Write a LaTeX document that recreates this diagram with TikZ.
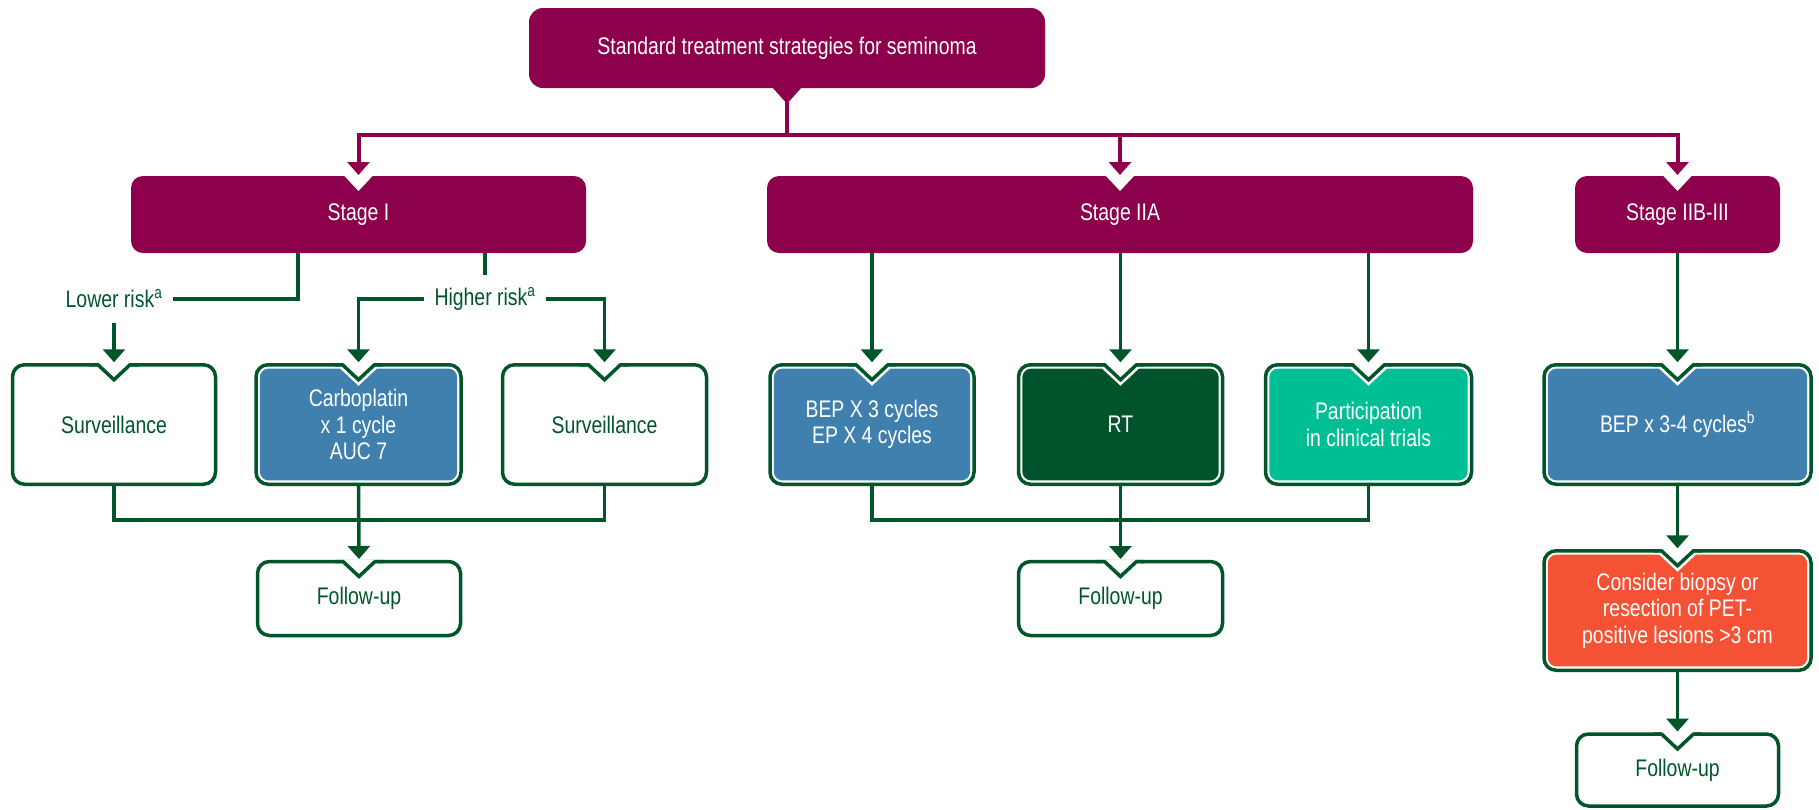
\documentclass[tikz,border=0pt]{standalone}
\usepackage{fontspec}
\setmainfont{Liberation Sans}[FakeStretch=0.81]
\usetikzlibrary{arrows.meta,positioning}

\definecolor{plum}{HTML}{8C004C}
\definecolor{dkgreen}{HTML}{00562A}
\definecolor{cblue}{HTML}{3F80AF}
\definecolor{cteal}{HTML}{00BF94}
\definecolor{corange}{HTML}{F45135}
\definecolor{rtgreen}{HTML}{00532A}

\newcommand{\boxfont}{\fontsize{24}{26.5}\selectfont}

% white cut at the top of a stage box
\newcommand{\stagenotch}[1]{%
  \fill[white] ([xshift=-15pt,yshift=1pt]#1.north) -- ([xshift=15pt,yshift=1pt]#1.north) -- ([yshift=-15pt]#1.north) -- cycle;}
% green v at the top of a bordered box
\newcommand{\boxnotch}[1]{%
  \fill[white] ([xshift=-20.5pt,yshift=-1.8pt]#1.north) -- ([xshift=20.5pt,yshift=-1.8pt]#1.north) -- ([yshift=-21pt]#1.north) -- cycle;
  \fill[white] ([xshift=-17pt,yshift=2pt]#1.north) -- ([xshift=17pt,yshift=2pt]#1.north) -- ([yshift=-14pt]#1.north) -- cycle;
  \draw[dkgreen, line width=3.5pt] ([xshift=-24pt]#1.north) -- ([xshift=-16pt]#1.north) -- ([yshift=-15pt]#1.north) -- ([xshift=16pt]#1.north) -- ([xshift=24pt]#1.north);}

\tikzset{
  base/.style={rounded corners=12pt, align=center, outer sep=0pt, inner sep=4pt, font=\boxfont},
  titlebox/.style={base, fill=plum, text=white, rounded corners=14pt},
  stagebox/.style={base, fill=plum, text=white, minimum height=77pt},
  plainbox/.style={base, draw=dkgreen, line width=3.5pt, fill=white, text=dkgreen, minimum height=119.5pt},
  fillbox/.style={plainbox, text=white,
    path picture={\fill[#1, rounded corners=9pt] ([shift={(3.8pt,3.8pt)}]path picture bounding box.south west) rectangle ([shift={(-3.8pt,-3.8pt)}]path picture bounding box.north east);}},
  risklabel/.style={font=\boxfont, text=dkgreen, inner xsep=11pt, inner ysep=0pt, minimum height=48pt, outer sep=0pt},
  pline/.style={plum, line width=4pt},
  parrow/.style={pline, -{Triangle[width=22pt,length=13pt]}, shorten >=1pt},
  gline/.style={dkgreen, line width=3.5pt},
  garrow/.style={gline, -{Triangle[width=22pt,length=13pt]}, shorten >=2.5pt}
}

\begin{document}
\begin{tikzpicture}[x=1pt, y=1pt]
        \useasboundingbox (0,0) rectangle (1819,-809);

        % nodes
        \node (title) [titlebox, minimum width=516pt, minimum height=80pt] at (787,-48) {Standard treatment strategies for seminoma};
        \node (st1) [stagebox, minimum width=455pt] at (358.5,-214.5) {Stage I};
        \node (st2) [stagebox, minimum width=706pt] at (1120,-214.5) {Stage IIA};
        \node (st3) [stagebox, minimum width=205pt] at (1677.5,-214.5) {Stage IIB-III};

        \node (lowlab) [risklabel] at (114,-299) {Lower risk\textsuperscript{a}};
        \node (hilab) [risklabel] at (485,-299) {Higher risk\textsuperscript{a}};

        \node (surv1) [plainbox, minimum width=203pt] at (114,-424.5) {Surveillance};
        \node (carbo) [fillbox=cblue, minimum width=205pt] at (358.5,-424.5) {Carboplatin\\x 1 cycle\\AUC 7};
        \node (surv2) [plainbox, minimum width=204pt] at (604.5,-424.5) {Surveillance};
        \node (bep) [fillbox=cblue, minimum width=204pt] at (872,-424.5) {BEP X 3 cycles\\EP X 4 cycles};
        \node (rt) [fillbox=rtgreen, minimum width=204pt] at (1120.5,-424.5) {RT};
        \node (part) [fillbox=cteal, minimum width=206pt] at (1368.5,-424.5) {Participation\\in clinical trials};
        \node (bep34) [fillbox=cblue, minimum width=267pt] at (1677.5,-424.5) {BEP x 3-4 cycles\textsuperscript{b}};

        \node (fu1) [plainbox, minimum width=203pt, minimum height=74pt] at (359,-598.5) {Follow-up};
        \node (fu2) [plainbox, minimum width=204pt, minimum height=74pt] at (1120.5,-598.5) {Follow-up};
        \node (consider) [fillbox=corange, minimum width=267pt] at (1677.5,-610.5) {Consider biopsy or\\resection of PET-\\positive lesions >3 cm};
        \node (fu3) [plainbox, minimum width=202pt, minimum height=72pt] at (1677.5,-770) {Follow-up};

        \coordinate (hub) at (787,-135);
        \coordinate (j1) at (358.5,-520);
        \coordinate (j2) at (1120.5,-520);

        % notches
        \fill[plum] ([xshift=-15pt,yshift=1pt]title.south) -- ([xshift=15pt,yshift=1pt]title.south) -- ([xshift=2.5pt,yshift=-13pt]title.south) -- ([xshift=-2.5pt,yshift=-13pt]title.south) -- cycle;
        \stagenotch{st1}
        \stagenotch{st2}
        \stagenotch{st3}
        \boxnotch{surv1}
        \boxnotch{carbo}
        \boxnotch{surv2}
        \boxnotch{bep}
        \boxnotch{rt}
        \boxnotch{part}
        \boxnotch{bep34}
        \boxnotch{fu1}
        \boxnotch{fu2}
        \boxnotch{consider}
        \boxnotch{fu3}

        % edges
        \draw[pline] (title.south) -- (hub);
        \draw[parrow] (hub) -| (st1.north);
        \draw[parrow] (hub) -| (st2.north);
        \draw[parrow] (hub) -| (st3.north);

        \draw[gline] ([xshift=-60.5pt]st1.south) |- (lowlab.east);
        \draw[gline] (st1.south -| hilab.north) -- (hilab.north);
        \draw[garrow] (lowlab.south) -- (surv1.north);
        \draw[garrow] (hilab.west) -| (carbo.north);
        \draw[garrow] (hilab.east) -| (surv2.north);

        \draw[garrow] (st2.south -| bep.north) -- (bep.north);
        \draw[garrow] (st2.south -| rt.north) -- (rt.north);
        \draw[garrow] (st2.south -| part.north) -- (part.north);
        \draw[garrow] (st3.south) -- (bep34.north);

        \draw[gline] (surv1.south) |- (j1) -| (surv2.south);
        \draw[garrow] (carbo.south) -- (fu1.north);
        \draw[gline] (bep.south) |- (j2) -| (part.south);
        \draw[garrow] (rt.south) -- (fu2.north);
        \draw[garrow] (bep34.south) -- (consider.north);
        \draw[garrow] (consider.south) -- (fu3.north);
    \end{tikzpicture}
\end{document}
